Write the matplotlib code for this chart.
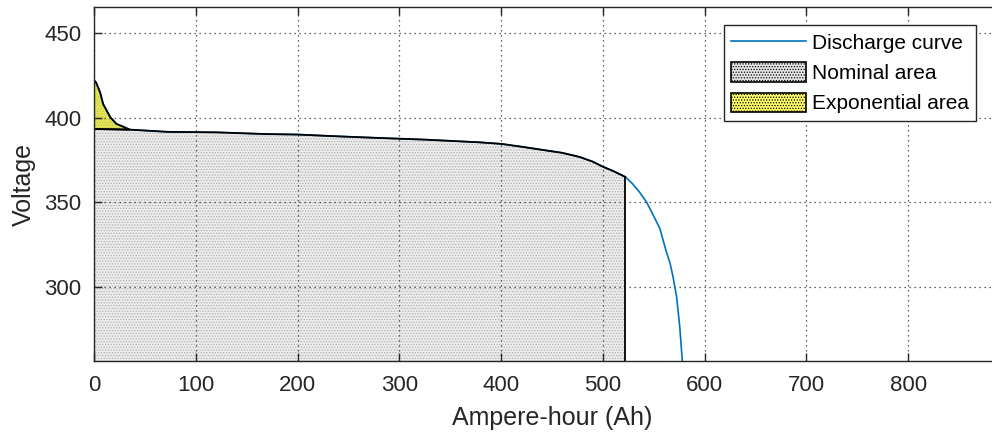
import matplotlib
matplotlib.use("Agg")
import matplotlib.pyplot as plt
from matplotlib.lines import Line2D
from matplotlib.patches import Patch
import numpy as np

plt.rcParams['font.family'] = ['Liberation Sans', 'DejaVu Sans']
plt.rcParams['hatch.linewidth'] = 0.6

# discharge curve
ah = [0, 2, 6, 9, 16, 22, 30, 35, 72, 120, 168, 200, 237, 288, 325, 379,
      400, 420, 440, 460, 477, 490, 500, 510, 522, 529, 536, 543, 549, 556,
      562, 566, 569, 572.5, 575.6, 578, 580]
volt = [422, 420.8, 414.9, 408, 400.2, 396.3, 394.3, 392.9, 391.6, 391.3, 390.3,
        390, 389, 387.8, 387, 385.4, 384.5, 382.8, 381, 379.2, 376.8, 374, 371,
        368.5, 365, 361, 356, 350, 343, 334.5, 321.5, 314, 305.7, 294, 276,
        256.5, 245]

exp_end = 35        # end of exponential zone (Ah)
exp_volt = 393.3    # voltage at end of exponential zone
nom_end = 522       # end of nominal zone (Ah)

blue = '#0072bd'
gray_txt = '#262626'

fig = plt.figure(figsize=(9.92, 4.4), dpi=100)
ax = fig.add_axes([94 / 992, 79 / 440, 916 / 992, 354 / 440])
ymin, ymax = 256.3, 465.3

ah = np.array(ah, dtype=float)
volt = np.array(volt, dtype=float)

# nominal area
m = (ah >= exp_end) & (ah <= nom_end)
nx = np.concatenate([[0, 0], ah[m], [nom_end, nom_end]])
ny = np.concatenate([[ymin - 5, exp_volt], volt[m], [np.interp(nom_end, ah, volt), ymin - 5]])
ax.fill(nx, ny, facecolor='#ececec', edgecolor='#b0b0b0', hatch='......', lw=0, zorder=2)

# exponential area
me = ah <= exp_end
ex = np.concatenate([ah[me], [0]])
ey = np.concatenate([volt[me], [exp_volt]])
ax.fill(ex, ey, facecolor='#e4e45a', edgecolor='#c8c840', hatch='......', lw=0, zorder=2)

ax.plot(ah, volt, color=blue, lw=1.2, zorder=3)
ax.plot(nx[1:-1], ny[1:-1], color='black', lw=1.3, zorder=4)
ax.plot([nom_end, nom_end], [ymin, ny[-2]], color='black', lw=1.3, zorder=4)
ax.plot(ex, ey, color='black', lw=1.3, zorder=4)

ax.set_xlim(0, 900)
ax.set_ylim(ymin, ymax)
ax.set_xticks(range(0, 900, 100))
ax.set_yticks([300, 350, 400, 450])
ax.grid(True, linestyle=(0, (1, 3)), color='#333333', lw=0.9, zorder=1)
ax.set_axisbelow(False)
for s in ax.spines.values():
    s.set_color(gray_txt)
    s.set_linewidth(1.0)
    s.set_zorder(5)
ax.tick_params(direction='in', top=True, right=True, length=6, width=1,
               colors=gray_txt, labelsize=16)
ax.tick_params(axis='x', pad=10)
ax.tick_params(axis='y', pad=9)
ax.set_xlabel('Ampere-hour (Ah)', fontsize=18, color=gray_txt, labelpad=7)
ax.set_ylabel('Voltage', fontsize=18, color=gray_txt, labelpad=6)

handles = [
    Line2D([], [], color=blue, lw=1.2),
    Patch(facecolor='#e6e6e6', edgecolor='black', hatch='......', lw=1.2),
    Patch(facecolor='#ffff66', edgecolor='black', hatch='......', lw=1.2),
]
leg = ax.legend(handles, ['Discharge curve', 'Nominal area', 'Exponential area'],
                loc='upper left', bbox_to_anchor=(724 / 992, 1 - 25 / 440),
                bbox_transform=fig.transFigure, fontsize=15, frameon=True,
                fancybox=False, framealpha=1, edgecolor=gray_txt,
                handlelength=3.6, handleheight=1.05, handletextpad=0.25,
                borderpad=0.35, labelspacing=0.45, borderaxespad=0)
leg.get_frame().set_linewidth(1.0)
leg.set_zorder(6)

fig.savefig('out.png', dpi=100)
